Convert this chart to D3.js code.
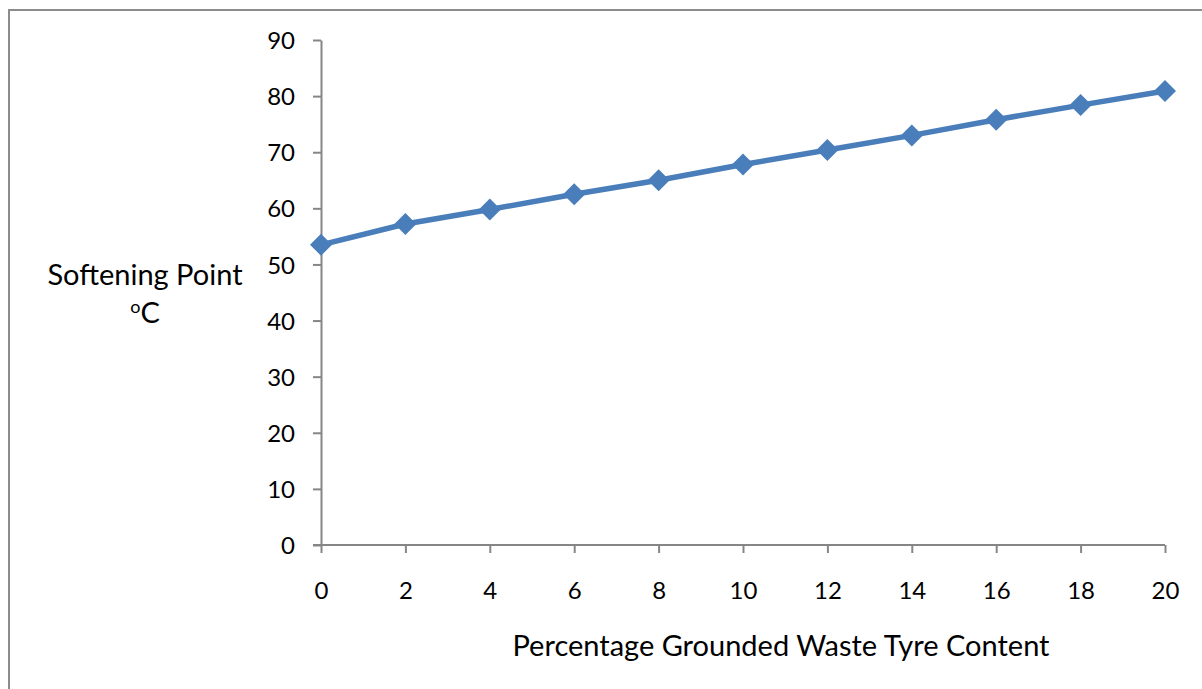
<!DOCTYPE html>
<html>
<head>
<meta charset="utf-8">
<script src="https://cdn.jsdelivr.net/npm/d3@7"></script>
<style>
  body { margin: 0; background: #fff; }
  text { font-family: Lato, "Open Sans", sans-serif; fill: #000; }
</style>
</head>
<body>
<div id="chart"></div>
<script>
// Data
const rubberContent = [0, 2, 4, 6, 8, 10, 12, 14, 16, 18, 20];
const softeningPoint = [53.5, 57.2, 59.8, 62.5, 65.0, 67.8, 70.4, 73.0, 75.8, 78.4, 80.9];
const xTicks = [0, 2, 4, 6, 8, 10, 12, 14, 16, 18, 20];
const yTicks = [0, 10, 20, 30, 40, 50, 60, 70, 80, 90];

const W = 1202, H = 689;
const plot = {left: 321, right: 1165, top: 40, bottom: 545};

const svg = d3.select("#chart")
  .append("svg")
  .attr("width", W)
  .attr("height", H);

// chart frame (runs off right/bottom of the picture)
svg.append("rect")
  .attr("x", 9).attr("y", 10)
  .attr("width", W + 10).attr("height", H + 10)
  .attr("fill", "none")
  .attr("stroke", "#8c8c8c")
  .attr("stroke-width", 2);

const x = d3.scaleLinear().domain([0, 20]).range([plot.left, plot.right]);
const y = d3.scaleLinear().domain([0, 90]).range([plot.bottom, plot.top]);

// y axis
const yAxis = svg.append("g")
  .attr("transform", `translate(${plot.left},0)`)
  .call(d3.axisLeft(y).tickValues(yTicks).tickSize(8).tickPadding(18).tickSizeOuter(0));
yAxis.select(".domain").attr("stroke", "#868686").attr("stroke-width", 2);
yAxis.selectAll(".tick line").attr("stroke", "#868686").attr("stroke-width", 2);
yAxis.selectAll("text").attr("font-size", 24).attr("font-family", "Lato").attr("dy", "0.36em");

// x axis
const xAxis = svg.append("g")
  .attr("transform", `translate(0,${plot.bottom})`)
  .call(d3.axisBottom(x).tickValues(xTicks).tickSize(8).tickPadding(29).tickSizeOuter(0));
xAxis.select(".domain").attr("stroke", "#868686").attr("stroke-width", 2)
  .attr("d", `M${plot.left - 8},0H${plot.right}`);
xAxis.selectAll(".tick line").attr("stroke", "#868686").attr("stroke-width", 2);
xAxis.selectAll("text").attr("font-size", 24).attr("font-family", "Lato");

// series line
const pts = rubberContent.map((d, i) => ({x: d, y: softeningPoint[i]}));
svg.append("path")
  .datum(pts)
  .attr("fill", "none")
  .attr("stroke", "#4a7ebb")
  .attr("stroke-width", 5.5)
  .attr("stroke-linejoin", "round")
  .attr("d", d3.line().x(d => x(d.x)).y(d => y(d.y)));

// diamond markers
svg.append("g")
  .selectAll("path")
  .data(pts)
  .join("path")
  .attr("transform", d => `translate(${x(d.x)},${y(d.y)})`)
  .attr("d", "M0,-11L11,0L0,11L-11,0Z")
  .attr("fill", "#4a7ebb");

// axis titles
svg.append("text")
  .attr("x", 145).attr("y", 285)
  .attr("text-anchor", "middle")
  .attr("font-size", 29)
  .text("Softening Point");

const unit = svg.append("text")
  .attr("x", 145).attr("y", 323)
  .attr("text-anchor", "middle")
  .attr("font-size", 29);
unit.append("tspan").attr("font-size", 18).attr("dy", -10).text("o");
unit.append("tspan").attr("dy", 10).text("C");

svg.append("text")
  .attr("x", 781).attr("y", 656)
  .attr("text-anchor", "middle")
  .attr("font-size", 29)
  .text("Percentage Grounded Waste Tyre Content");
</script>
</body>
</html>
